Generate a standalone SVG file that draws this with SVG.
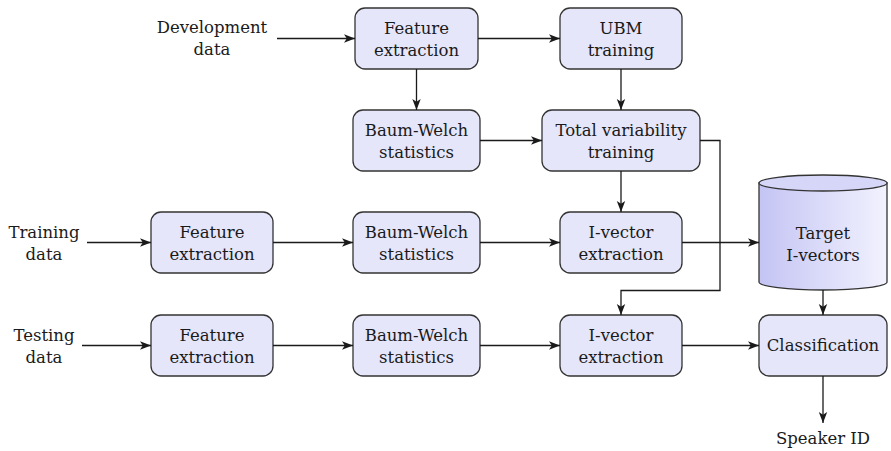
<svg xmlns="http://www.w3.org/2000/svg" width="891" height="451" viewBox="0 0 891 451">
  <style>
    .box { fill: #e6e6fb; stroke: #333; stroke-width: 1.3; }
    .lbl { font-family: "DejaVu Serif", "Liberation Serif", serif; font-size: 16.5px; fill: #1a1a1a; text-anchor: middle; }
    .wire { fill: none; stroke: #1a1a1a; stroke-width: 1.3; marker-end: url(#arr); }
    .line { fill: none; stroke: #1a1a1a; stroke-width: 1.3; }
  </style>
  <defs>
    <marker id="arr" viewBox="0 0 12 10" refX="11" refY="5" markerWidth="12" markerHeight="10" markerUnits="userSpaceOnUse" orient="auto">
      <path d="M0,0.8 L11,5 L0,9.2 L2.8,5 Z" fill="#1a1a1a"/>
    </marker>
    <linearGradient id="cylFill" x1="0" y1="0" x2="1" y2="0">
      <stop offset="0" stop-color="#c4c4f4"/>
      <stop offset="1" stop-color="#f2f2ff"/>
    </linearGradient>
  </defs>

  <!-- input / output labels -->
  <g id="dev-data">
    <text class="lbl" x="212" y="33">Development</text>
    <text class="lbl" x="212" y="55">data</text>
  </g>
  <g id="train-data">
    <text class="lbl" x="44" y="238">Training</text>
    <text class="lbl" x="44" y="260">data</text>
  </g>
  <g id="test-data">
    <text class="lbl" x="44" y="341">Testing</text>
    <text class="lbl" x="44" y="363">data</text>
  </g>
  <g id="speaker-id">
    <text class="lbl" x="823" y="444">Speaker ID</text>
  </g>

  <!-- development branch -->
  <g id="dev-feat">
    <rect class="box" x="355" y="8" width="123" height="61" rx="10"/>
    <text class="lbl" x="416.5" y="34">Feature</text>
    <text class="lbl" x="416.5" y="56">extraction</text>
  </g>
  <g id="ubm">
    <rect class="box" x="560" y="8" width="122" height="61" rx="10"/>
    <text class="lbl" x="621" y="34">UBM</text>
    <text class="lbl" x="621" y="56">training</text>
  </g>
  <g id="dev-bw">
    <rect class="box" x="353" y="110" width="127" height="61" rx="10"/>
    <text class="lbl" x="416.5" y="136">Baum-Welch</text>
    <text class="lbl" x="416.5" y="158">statistics</text>
  </g>
  <g id="tv">
    <rect class="box" x="542" y="110" width="158" height="61" rx="10"/>
    <text class="lbl" x="621" y="136">Total variability</text>
    <text class="lbl" x="621" y="158">training</text>
  </g>

  <!-- training branch -->
  <g id="train-feat">
    <rect class="box" x="151" y="212" width="122" height="61" rx="10"/>
    <text class="lbl" x="212" y="238">Feature</text>
    <text class="lbl" x="212" y="260">extraction</text>
  </g>
  <g id="train-bw">
    <rect class="box" x="353" y="212" width="127" height="61" rx="10"/>
    <text class="lbl" x="416.5" y="238">Baum-Welch</text>
    <text class="lbl" x="416.5" y="260">statistics</text>
  </g>
  <g id="train-iv">
    <rect class="box" x="560" y="212" width="122" height="61" rx="10"/>
    <text class="lbl" x="621" y="238">I-vector</text>
    <text class="lbl" x="621" y="260">extraction</text>
  </g>
  <g id="target">
    <path d="M759,183 L759,282 A64,8 0 0 0 887,282 L887,183 Z" fill="url(#cylFill)" stroke="#333" stroke-width="1.3"/>
    <ellipse cx="823" cy="183" rx="64" ry="8" fill="#d6d6f8" stroke="#333" stroke-width="1.3"/>
    <text class="lbl" x="823" y="239">Target</text>
    <text class="lbl" x="823" y="261">I-vectors</text>
  </g>

  <!-- testing branch -->
  <g id="test-feat">
    <rect class="box" x="151" y="315" width="122" height="61" rx="10"/>
    <text class="lbl" x="212" y="341">Feature</text>
    <text class="lbl" x="212" y="363">extraction</text>
  </g>
  <g id="test-bw">
    <rect class="box" x="353" y="315" width="127" height="61" rx="10"/>
    <text class="lbl" x="416.5" y="341">Baum-Welch</text>
    <text class="lbl" x="416.5" y="363">statistics</text>
  </g>
  <g id="test-iv">
    <rect class="box" x="560" y="315" width="122" height="61" rx="10"/>
    <text class="lbl" x="621" y="341">I-vector</text>
    <text class="lbl" x="621" y="363">extraction</text>
  </g>
  <g id="classify">
    <rect class="box" x="759" y="315" width="128" height="61" rx="10"/>
    <text class="lbl" x="823" y="351">Classification</text>
  </g>

  <!-- connectors -->
  <g id="connectors">
    <path class="wire" d="M277,38.5 H355"/>
    <path class="wire" d="M478,38.5 H560"/>
    <path class="wire" d="M416.5,69 V110"/>
    <path class="wire" d="M621,69 V110"/>
    <path class="wire" d="M480,140.5 H542"/>
    <path class="wire" d="M621,171 V212"/>
    <path class="wire" d="M700,140.5 H720 V290.5 H621 V315"/>

    <path class="wire" d="M87,242.5 H151"/>
    <path class="wire" d="M273,242.5 H353"/>
    <path class="wire" d="M480,242.5 H560"/>
    <path class="wire" d="M682,242.5 H759"/>
    <path class="wire" d="M823,290 V315"/>

    <path class="wire" d="M82,345.5 H151"/>
    <path class="wire" d="M273,345.5 H353"/>
    <path class="wire" d="M480,345.5 H560"/>
    <path class="wire" d="M682,345.5 H759"/>
    <path class="wire" d="M823,376 V423"/>
  </g>
</svg>
